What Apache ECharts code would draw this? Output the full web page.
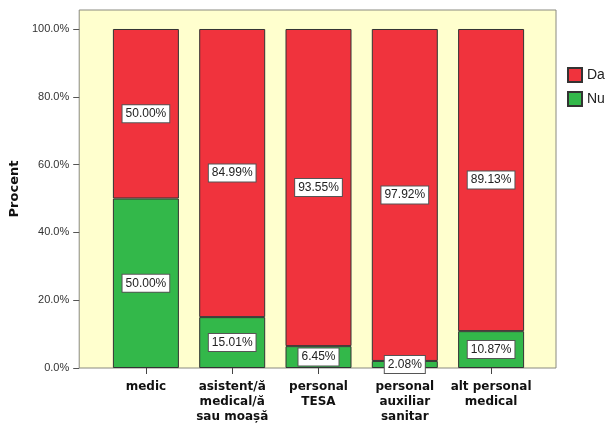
<!DOCTYPE html>
<html>
<head>
<meta charset="utf-8">
<script src="https://cdn.jsdelivr.net/npm/echarts@6/dist/echarts.min.js"></script>
<style>html,body{margin:0;padding:0;background:#fff}#c{width:609px;height:424px}</style>
</head>
<body>
<div id="c"></div>
<script>
const categories = ['medic', 'asistent/ă\nmedical/ă\nsau moașă', 'personal\nTESA', 'personal\nauxiliar\nsanitar', 'alt personal\nmedical'];
const daValues = [50.00, 84.99, 93.55, 97.92, 89.13];
const nuValues = [50.00, 15.01, 6.45, 2.08, 10.87];
const yTicks = [0, 20, 40, 60, 80, 100];

const chart = echarts.init(document.getElementById('c'), null, {renderer: 'canvas'});
const FONT = '"Liberation Sans", Arial, sans-serif';
const BOLD = '"DejaVu Sans", Verdana, sans-serif';
const yMax = 105.6;
const labelStyle = {
  show: true,
  position: 'inside',
  formatter: p => p.value.toFixed(2) + '%',
  color: '#222',
  fontFamily: FONT,
  fontSize: 12,
  backgroundColor: '#fff',
  borderColor: '#555',
  borderWidth: 1,
  padding: [3, 3, 2, 3]
};
chart.setOption({
  animation: false,
  grid: [
    {left: 79, right: 53, top: 10, bottom: 56, show: true, backgroundColor: '#FFFFCE', borderColor: '#8a8a80', borderWidth: 1},
    {left: 102.75, right: 74.75, top: 10, bottom: 56}
  ],
  xAxis: [
    {gridIndex: 0, type: 'value', min: 0, max: 1, show: false},
    {gridIndex: 1, type: 'category', data: categories,
      axisLine: {show: false},
      axisTick: {show: true, alignWithLabel: true, length: 6, lineStyle: {color: '#444'}},
      axisLabel: {interval: 0, color: '#111', fontFamily: BOLD, fontWeight: 'bold', fontSize: 12, lineHeight: 15, margin: 11}
    }
  ],
  yAxis: [
    {gridIndex: 0, type: 'value', min: 0, max: yMax, interval: 20,
      name: 'Procent', nameLocation: 'middle', nameGap: 56, nameRotate: 90,
      nameTextStyle: {fontFamily: BOLD, fontWeight: 'bold', fontSize: 13, color: '#111'},
      axisLine: {show: false},
      axisTick: {show: true, length: 6, lineStyle: {color: '#555'}},
      splitLine: {show: false},
      axisLabel: {color: '#333', fontFamily: FONT, fontSize: 11, margin: 10,
        showMaxLabel: false,
        formatter: v => yTicks.indexOf(v) >= 0 ? v.toFixed(1) + '%' : ''}
    },
    {gridIndex: 1, type: 'value', min: 0, max: yMax, show: false}
  ],
  legend: {
    orient: 'vertical', left: 567, top: 67, padding: 0, itemWidth: 14, itemHeight: 14, itemGap: 8,
    icon: 'rect',
    textStyle: {fontFamily: FONT, fontSize: 14, color: '#222'},
    data: ['Da', 'Nu']
  },
  series: [
    {name: 'Nu', type: 'bar', stack: 's', xAxisIndex: 1, yAxisIndex: 1, barWidth: 66, data: nuValues,
      itemStyle: {color: '#33B84A', borderColor: '#333', borderWidth: 1}, label: labelStyle},
    {name: 'Da', type: 'bar', stack: 's', xAxisIndex: 1, yAxisIndex: 1, barWidth: 66, data: daValues,
      itemStyle: {color: '#F0333D', borderColor: '#333', borderWidth: 1}, label: labelStyle}
  ]
});
</script>
</body>
</html>
